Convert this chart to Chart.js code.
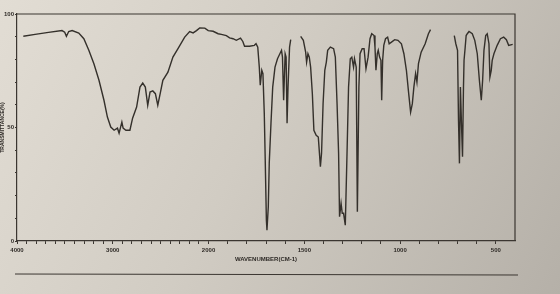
<!DOCTYPE html>
<html>
<head>
<meta charset="utf-8">
<script src="https://cdn.jsdelivr.net/npm/chart.js@4.4.0/dist/chart.umd.min.js"></script>
<style>
  html, body { margin: 0; padding: 0; background: #c9c4bb; }
  #wrap { width: 560px; height: 294px; position: relative; }
</style>
</head>
<body>
<div id="wrap"><canvas id="irChart"></canvas></div>
<script>
// IR spectrum - wavenumber (cm-1) vs transmittance (%), null = break in the trace
const wavenumbers = [
  3934, 3811, 3671, 3530, 3502, 3484, 3460, 3424, 3355, 3302,
  3250, 3197, 3144, 3092, 3056, 3021, 2986, 2951, 2934, 2905,
  2892, 2863, 2821, 2793, 2751, 2716, 2687, 2660, 2635, 2611,
  2582, 2555, 2530, 2505, 2477, 2424, 2372, 2319, 2249, 2197,
  2161, 2126, 2092, 2039, 2003, 1976, 1950, 1933, 1907, 1890,
  1872, 1855, 1833, 1821, 1812, 1786, 1761, 1752, 1743, 1735,
  1730, 1722, 1716, 1709, 1704, 1698, 1695, 1688, 1683, 1674,
  1665, 1653, 1640, 1619, 1614, 1608, 1600, 1595, 1590, 1585,
  1577, 1571, 1545, 1519, 1505, 1493, 1488, 1481, 1474, 1467,
  1458, 1450, 1438, 1427, 1421, 1416, 1410, 1402, 1393, 1385,
  1378, 1364, 1347, 1338, 1329, 1321, 1316, 1308, 1302, 1295,
  1286, 1277, 1269, 1260, 1252, 1243, 1238, 1229, 1223, 1215,
  1209, 1198, 1188, 1178, 1167, 1157, 1148, 1136, 1131, 1126,
  1119, 1114, 1107, 1100, 1096, 1091, 1085, 1076, 1065, 1057,
  1045, 1028, 1011, 993, 980, 967, 955, 945, 936, 928,
  919, 912, 904, 890, 869, 852, 841, 780, 717, 709,
  700, 695, 690, 685, 680, 674, 669, 666, 660, 655,
  649, 640, 623, 610, 597, 586, 576, 569, 562, 553,
  545, 536, 531, 524, 519, 510, 493, 476, 459, 445,
  433, 412
];
const transmittance = [
  90.2, 91.0, 91.9, 92.7, 92.0, 90.2, 92.3, 92.7, 91.6, 89.1,
  84.0, 78.1, 70.8, 62.0, 54.6, 50.2, 48.8, 49.7, 47.5, 52.4,
  49.7, 48.8, 48.8, 54.1, 59.0, 67.8, 69.6, 67.8, 59.8, 65.6,
  66.1, 64.9, 59.8, 64.9, 70.8, 74.4, 81.0, 84.7, 89.8, 92.3,
  91.7, 92.7, 93.9, 93.8, 92.7, 92.4, 91.3, 91.0, 90.5, 89.5,
  89.1, 88.4, 89.4, 87.9, 85.8, 85.8, 86.2, 86.9, 85.4, 76.6,
  68.6, 75.2, 73.7, 56.3, 35.6, 9.2, 4.8, 15.1, 34.3, 51.9,
  67.8, 76.6, 80.3, 84.0, 81.0, 62.0, 82.5, 81.0, 51.9, 67.8,
  85.4, 88.7, null, 90.1, 88.4, 83.2, 78.8, 82.5, 81.0, 76.6,
  64.9, 48.8, 46.6, 45.8, 38.7, 32.7, 38.7, 60.5, 75.2, 78.8,
  84.0, 85.4, 84.7, 81.0, 60.5, 38.7, 10.7, 16.6, 12.2, 12.2,
  7.0, 38.7, 67.8, 80.3, 81.0, 76.6, 80.3, 76.6, 12.9, 67.8,
  82.5, 84.7, 84.7, 75.9, 81.0, 89.1, 91.3, 90.5, 85.4, 75.2,
  82.5, 84.0, 81.0, 79.6, 62.0, 79.6, 86.2, 89.1, 89.8, 86.9,
  87.6, 88.7, 88.4, 86.9, 82.5, 75.2, 64.9, 56.8, 60.5, 67.8,
  73.7, 70.0, 78.1, 83.2, 86.9, 91.3, 93.1, null, 90.5, 86.9,
  84.0, 53.2, 34.2, 67.8, 53.2, 37.1, 67.8, 79.6, 85.4, 90.5,
  91.3, 92.3, 91.3, 88.4, 82.5, 70.8, 62.0, 70.8, 84.0, 90.5,
  91.3, 86.9, 72.2, 75.2, 79.6, 82.5, 86.2, 89.1, 89.8, 88.7,
  86.2, 86.6
];
const labelledTicks = [4000, 3000, 2000, 1500, 1000, 500];
const yLabelledTicks = [0, 50, 100];

// chart paper: scale doubles below 2000 cm-1
function toAxis(w) {
  return w >= 2000 ? (4000 - w) / 1000 : 2 + (2000 - w) / 500;
}

const points = wavenumbers.map((w, i) => ({ x: toAxis(w), y: transmittance[i] }));

const paperPlugin = {
  id: 'paper',
  beforeDraw(chart) {
    const c = chart.ctx;
    const g = c.createLinearGradient(0, 0, chart.width, chart.height);
    g.addColorStop(0, '#e2ddd4');
    g.addColorStop(0.45, '#d1ccc3');
    g.addColorStop(1, '#b5b0a8');
    c.save();
    c.fillStyle = g;
    c.fillRect(0, 0, chart.width, chart.height);
    c.restore();
  },
  afterDraw(chart) {
    const a = chart.chartArea;
    const c = chart.ctx;
    c.save();
    c.strokeStyle = '#3b3631';
    c.lineWidth = 1.2;
    c.beginPath();
    c.moveTo(a.left, a.top);
    c.lineTo(a.right, a.top);
    c.lineTo(a.right, a.bottom);
    c.stroke();
    // rule under the chart
    c.lineWidth = 1;
    c.beginPath();
    c.moveTo(15, 274);
    c.lineTo(518, 275);
    c.stroke();
    c.restore();
  }
};

new Chart(document.getElementById('irChart'), {
  type: 'line',
  data: {
    datasets: [{
      label: 'IR',
      data: points,
      borderColor: '#34302b',
      borderWidth: 1.4,
      pointRadius: 0,
      tension: 0,
      spanGaps: false,
      fill: false
    }]
  },
  plugins: [paperPlugin],
  options: {
    responsive: true,
    maintainAspectRatio: false,
    animation: false,
    parsing: false,
    layout: {
      padding: { left: 0, right: 45, top: 14, bottom: 31 }
    },
    plugins: {
      legend: { display: false },
      tooltip: { enabled: false }
    },
    scales: {
      x: {
        type: 'linear',
        min: 0,
        max: 5.2,
        afterBuildTicks(scale) {
          const t = [];
          for (let w = 4000; w >= 500; w -= 100) t.push({ value: toAxis(w) });
          scale.ticks = t;
        },
        afterFit(scale) { scale.height = 22; },
        ticks: {
          autoSkip: false,
          maxRotation: 0,
          padding: 3,
          color: '#2e2a26',
          font: { family: 'Liberation Sans', size: 6, weight: 'bold' },
          callback(value) {
            const w = value <= 2 ? Math.round(4000 - value * 1000) : Math.round(2000 - (value - 2) * 500);
            return labelledTicks.includes(w) ? String(w) : '';
          }
        },
        grid: {
          drawOnChartArea: false,
          tickLength: 3,
          tickColor: '#3b3631',
          tickWidth: 1
        },
        border: { display: true, color: '#3b3631', width: 1.2 },
        title: {
          display: true,
          text: 'WAVENUMBER(CM-1)',
          color: '#2e2a26',
          font: { family: 'Liberation Sans', size: 6, weight: 'bold' },
          padding: { top: 0, bottom: 0 }
        }
      },
      y: {
        min: 0,
        max: 100,
        afterFit(scale) { scale.width = 17; },
        ticks: {
          stepSize: 10,
          padding: 1,
          color: '#2e2a26',
          font: { family: 'Liberation Sans', size: 6, weight: 'bold' },
          callback(value) {
            return yLabelledTicks.includes(value) ? String(value) : '';
          }
        },
        grid: {
          drawOnChartArea: false,
          tickLength: 2,
          tickColor: '#3b3631'
        },
        border: { display: true, color: '#3b3631', width: 1.2 },
        title: {
          display: true,
          text: 'TRANSMITTANCE(%)',
          color: '#2e2a26',
          font: { family: 'Liberation Sans', size: 5, weight: 'bold' },
          padding: 0
        }
      }
    }
  }
});
</script>
</body>
</html>
